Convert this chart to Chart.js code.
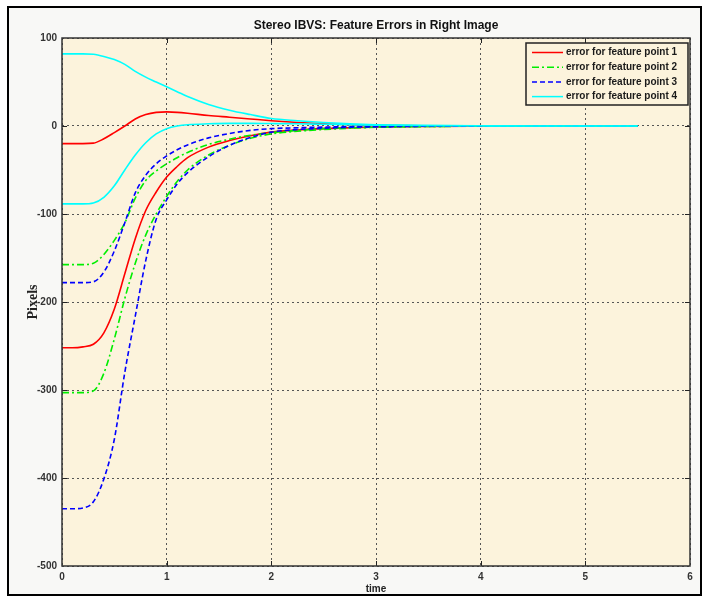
<!DOCTYPE html>
<html>
<head>
<meta charset="utf-8">
<title>Stereo IBVS: Feature Errors in Right Image</title>
<script src="https://cdn.jsdelivr.net/npm/chart.js@4.4.0/dist/chart.umd.min.js"></script>
<style>
  html, body { margin: 0; padding: 0; background: #fff; }
</style>
</head>
<body>
<canvas id="myChart" width="704" height="597"></canvas>
<script>
window.addEventListener("load", init);

// time axis (s) and pixel errors, two curves per feature point (u and v)
var time = [0, 0.1, 0.2, 0.3, 0.4, 0.5, 0.6, 0.7, 0.8, 0.9, 1.0, 1.1, 1.2, 1.4, 1.6, 1.8, 2.0, 2.25, 2.5, 2.75, 3.0, 3.5, 4.0, 4.5, 5.0, 5.5];

var p1u = [-20, -20, -20, -19.5, -14.5, -7.5, 0, 8, 13, 15.5, 16, 15.5, 14.5, 12, 10, 8, 6, 4, 2.5, 1.5, 0.8, 0.3, 0.1, 0, 0, 0];
var p1v = [-252, -252, -251, -248, -235, -208, -168, -128, -96, -75, -58, -46, -36, -24, -16.5, -11, -7, -4.5, -3, -2, -1.2, -0.5, -0.2, 0, 0, 0];
var p2u = [-157.5, -157.5, -157.5, -156, -146, -130, -110, -82, -62, -51, -43, -36, -30, -21, -15, -10.5, -7.5, -5, -3, -2, -1.2, -0.5, -0.2, 0, 0, 0];
var p2v = [-303, -303, -303, -301, -281, -242, -196, -156, -124, -100, -80, -63, -50, -33, -22, -14, -9, -6, -4, -2.5, -1.5, -0.6, -0.2, 0, 0, 0];
var p3u = [-178, -178, -178, -177, -166, -142, -110, -76, -56, -43, -34, -27, -21.5, -13.5, -8.5, -5, -3, -2, -1.2, -0.8, -0.5, -0.2, 0, 0, 0, 0];
var p3v = [-435, -435, -434, -427, -401, -356, -280, -216, -153, -106, -84, -66, -53, -35, -22, -13, -7, -4, -2.5, -1.5, -0.9, -0.3, -0.1, 0, 0, 0];
var p4u = [82, 82, 82, 81.5, 79, 75.5, 70, 62, 55.5, 50, 44.5, 39, 33.5, 24.5, 18, 13, 8.5, 6, 4, 2.5, 1.5, 0.5, 0.2, 0, 0, 0];
var p4v = [-88.5, -88.5, -88.5, -87.5, -81, -68, -50, -33, -19, -9, -3, 0, 1.5, 2.5, 3, 3, 2.8, 2.5, 2, 1.5, 1, 0.5, 0.2, 0, 0, 0];

var legendLabels = ["error for feature point 1", "error for feature point 2", "error for feature point 3", "error for feature point 4"];
var xTicks = [0, 1, 2, 3, 4, 5, 6];
var yTicks = [100, 0, -100, -200, -300, -400, -500];

var looks = [
  { color: "#ff0000", dash: [] },
  { color: "#00ee00", dash: [7, 3, 2, 3] },
  { color: "#0000ff", dash: [5, 3] },
  { color: "#00ffff", dash: [] }
];

// background, frame, axes box, inward ticks and the boxed legend
var matlabLook = {
  id: "matlabLook",
  beforeDraw(chart) {
    var c = chart.ctx, a = chart.chartArea;
    c.save();
    c.fillStyle = "#ffffff";
    c.fillRect(0, 0, chart.width, chart.height);
    c.fillStyle = "#f8f8f6";
    c.fillRect(8, 7, 693, 588);
    c.lineWidth = 2;
    c.strokeStyle = "#000";
    c.strokeRect(8, 7, 693, 588);
    c.fillStyle = "#fcf3dc";
    c.fillRect(a.left, a.top, a.right - a.left, a.bottom - a.top);
    c.restore();
  },
  afterDraw(chart) {
    var c = chart.ctx, a = chart.chartArea;
    var xs = chart.scales.x, ys = chart.scales.y;
    c.save();
    c.strokeStyle = "#222";
    c.lineWidth = 1;
    c.beginPath();
    xTicks.slice(1, -1).forEach(v => {
      var px = Math.round(xs.getPixelForValue(v)) + 0.5;
      c.moveTo(px, a.bottom); c.lineTo(px, a.bottom - 5);
      c.moveTo(px, a.top); c.lineTo(px, a.top + 5);
    });
    yTicks.slice(1, -1).forEach(v => {
      var py = Math.round(ys.getPixelForValue(v)) + 0.5;
      c.moveTo(a.left, py); c.lineTo(a.left + 5, py);
      c.moveTo(a.right, py); c.lineTo(a.right - 5, py);
    });
    c.stroke();
    c.lineWidth = 1.5;
    c.strokeStyle = "#333";
    c.strokeRect(a.left, a.top, a.right - a.left, a.bottom - a.top);

    // legend
    var lw = 162, lh = 62;
    var lx = a.right - lw - 2, ly = a.top + 5;
    c.fillStyle = "#fcf3dc";
    c.fillRect(lx, ly, lw, lh);
    c.lineWidth = 1.5;
    c.strokeStyle = "#222";
    c.strokeRect(lx, ly, lw, lh);
    c.font = "bold 10px 'Liberation Sans', Arial, sans-serif";
    c.textBaseline = "middle";
    for (var i = 0; i < 4; i++) {
      var ds = chart.data.datasets[i * 2];
      var ry = ly + 9.5 + i * 14.7;
      c.strokeStyle = ds.borderColor;
      c.lineWidth = 1.5;
      c.setLineDash(ds.borderDash);
      c.beginPath();
      c.moveTo(lx + 6, ry); c.lineTo(lx + 37, ry);
      c.stroke();
      c.setLineDash([]);
      c.fillStyle = "#1a1a1a";
      c.fillText(ds.label, lx + 40, ry);
    }
    c.restore();
  }
};

function init() {
  Chart.defaults.font.family = "'Liberation Sans', Arial, sans-serif";
  var ctx = document.getElementById("myChart").getContext("2d");

  var datasets = [];
  [[p1u, p1v], [p2u, p2v], [p3u, p3v], [p4u, p4v]].forEach((pair, k) => {
    pair.forEach(vals => {
      datasets.push({
        label: legendLabels[k],
        data: vals.map((v, i) => ({ x: time[i], y: v })),
        borderColor: looks[k].color,
        borderDash: looks[k].dash,
        borderWidth: 1.6,
        pointRadius: 0,
        fill: false,
        order: 3 - k,
        cubicInterpolationMode: "monotone"
      });
    });
  });

  var chart = new Chart(ctx, {
    type: "line",
    data: { datasets: datasets },
    plugins: [matlabLook],
    options: {
      responsive: false,
      animation: false,
      layout: { padding: { left: 0, right: 14, top: 0, bottom: 0 } },
      plugins: {
        legend: { display: false },
        tooltip: { enabled: false },
        title: {
          display: true,
          fullSize: false,
          text: "Stereo IBVS: Feature Errors in Right Image",
          color: "#111",
          font: { size: 12, weight: "bold" },
          padding: { top: 18, bottom: 5.6 }
        }
      },
      scales: {
        x: {
          type: "linear",
          min: 0,
          max: 6,
          afterBuildTicks: s => { s.ticks = xTicks.map(v => ({ value: v })); },
          afterFit: s => { s.height = 31; },
          ticks: { color: "#333", font: { size: 10, weight: "bold" }, padding: 5, maxRotation: 0 },
          grid: { color: "#555", lineWidth: 1, drawTicks: false },
          border: { display: false, dash: [2, 3] },
          title: { display: true, text: "time", color: "#222", font: { size: 10, weight: "bold" }, padding: { top: 0, bottom: 2 } }
        },
        y: {
          min: -500,
          max: 100,
          afterBuildTicks: s => { s.ticks = yTicks.map(v => ({ value: v })); },
          afterFit: s => { s.width = 62; },
          ticks: { color: "#333", font: { size: 10, weight: "bold" }, padding: 5 },
          grid: { color: "#555", lineWidth: 1, drawTicks: false },
          border: { display: false, dash: [2, 3] },
          title: {
            display: true,
            text: "Pixels",
            color: "#222",
            font: { family: "'Liberation Serif', 'Times New Roman', serif", size: 14, weight: "bold" },
            padding: { top: 25, bottom: 0 }
          }
        }
      }
    }
  });
}
</script>
</body>
</html>
